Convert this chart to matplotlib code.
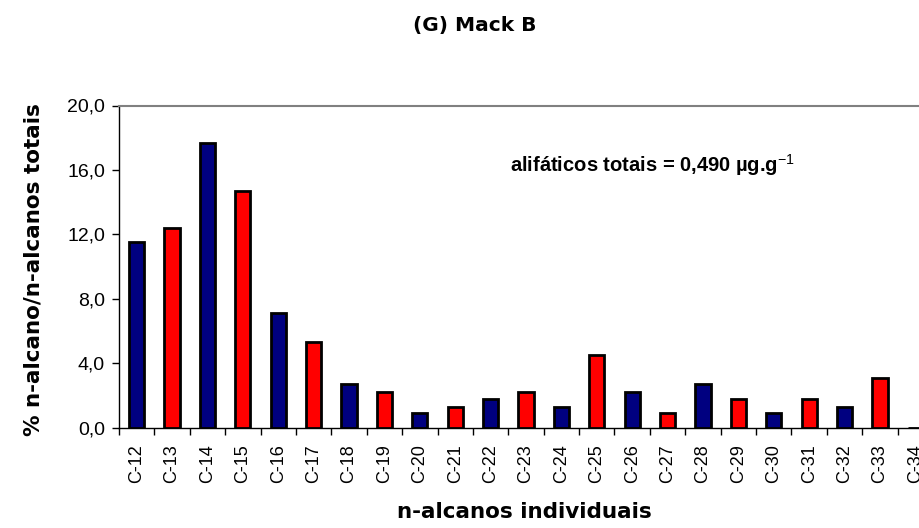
import matplotlib
matplotlib.use("Agg")
import matplotlib.pyplot as plt
from matplotlib.ticker import FixedLocator, FuncFormatter

plt.rcParams["mathtext.fontset"] = "custom"
plt.rcParams["mathtext.rm"] = "Liberation Sans"
plt.rcParams["mathtext.bf"] = "Liberation Sans:bold"

categories = ["C-12", "C-13", "C-14", "C-15", "C-16", "C-17", "C-18", "C-19", "C-20",
              "C-21", "C-22", "C-23", "C-24", "C-25", "C-26", "C-27", "C-28", "C-29",
              "C-30", "C-31", "C-32", "C-33", "C-34"]
values = [11.5, 12.4, 17.7, 14.7, 7.1, 5.3, 2.7, 2.2, 0.9,
          1.3, 1.8, 2.2, 1.3, 4.5, 2.2, 0.9, 2.7, 1.8,
          0.9, 1.8, 1.3, 3.1, 0.0]
even_color = "#000080"
odd_color = "#FF0000"
yticks = [0, 4, 8, 12, 16, 20]

title = "(G) Mack B"
xlabel = "n-alcanos individuais"
ylabel = "% n-alcano/n-alcanos totais"
note = "alifáticos totais = 0,490 µg.g$^{\\mathrm{-1}}$"

fig = plt.figure(figsize=(9.19, 5.28), dpi=100)
ax = fig.add_axes([119/919, 100.3/528, 814/919, 322.2/528])

x = list(range(len(categories)))
colors = [even_color if int(c.split("-")[1]) % 2 == 0 else odd_color for c in categories]
ax.bar(x, values, width=0.43, color=colors, edgecolor="black", linewidth=2, zorder=3)

ax.set_xlim(-0.5, len(categories) - 0.5)
ax.set_ylim(0, 20)
ax.set_yticks(yticks)
ax.yaxis.set_major_formatter(FuncFormatter(lambda v, p: f"{v:.1f}".replace(".", ",")))
ax.set_xticks(x)
ax.set_xticklabels(categories, rotation=90, fontfamily="Liberation Sans", fontsize=13)
ax.xaxis.set_minor_locator(FixedLocator([i - 0.5 for i in range(len(categories) + 1)]))
ax.tick_params(axis="x", which="major", length=0, pad=12)
ax.tick_params(axis="x", which="minor", length=5, width=1, color="black")
ax.tick_params(axis="y", length=5, width=1, labelsize=14, pad=5)
for lab in ax.get_yticklabels():
    lab.set_fontfamily("Liberation Sans")

ax.spines["right"].set_visible(False)
ax.spines["top"].set_color("#808080")
ax.spines["top"].set_linewidth(1.5)
ax.spines["left"].set_linewidth(1)
ax.spines["bottom"].set_linewidth(1)

fig.text(475/919, 1 - 25/528, title, ha="center", va="center",
         fontfamily="DejaVu Sans", fontweight="bold", fontsize=14.5)
fig.text(524/919, 1 - 512/528, xlabel, ha="center", va="center",
         fontfamily="DejaVu Sans", fontweight="bold", fontsize=15.5)
fig.text(34/919, 1 - 270/528, ylabel, ha="center", va="center", rotation=90,
         fontfamily="DejaVu Sans", fontweight="bold", fontsize=15.5)
fig.text(510/919, 1 - 165/528, note, ha="left", va="center",
         fontfamily="Liberation Sans", fontweight="bold", fontsize=14.5)

fig.savefig("out.png", dpi=100)
